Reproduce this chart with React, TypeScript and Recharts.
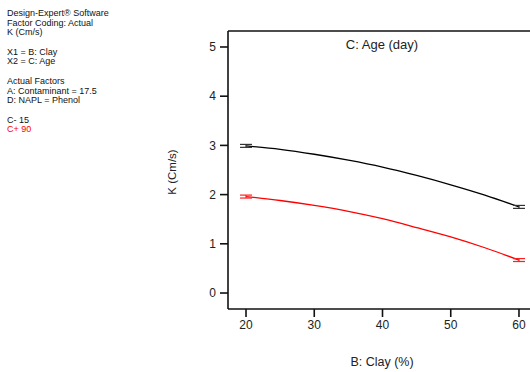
import {
  ComposedChart,
  Line,
  Scatter,
  ErrorBar,
  XAxis,
  YAxis,
  ReferenceLine
} from "recharts";

const clay = [20, 25, 30, 35, 40, 45, 50, 55, 60];
const kAge15 = [2.99, 2.92, 2.82, 2.7, 2.56, 2.39, 2.2, 1.99, 1.75];
const kAge90 = [1.96, 1.88, 1.78, 1.66, 1.51, 1.33, 1.14, 0.92, 0.67];

const ends15 = [
  { clay: 20, k: 2.99, err: 0.03 },
  { clay: 60, k: 1.75, err: 0.03 }
];
const ends90 = [
  { clay: 20, k: 1.96, err: 0.03 },
  { clay: 60, k: 0.67, err: 0.03 }
];

const xTicks = [20, 30, 40, 50, 60];
const yTicks = [0, 1, 2, 3, 4, 5];

const notes = [
  "Design-Expert® Software",
  "Factor Coding: Actual",
  "K (Cm/s)",
  "",
  "X1 = B: Clay",
  "X2 = C: Age",
  "",
  "Actual Factors",
  "A: Contaminant = 17.5",
  "D: NAPL = Phenol",
  ""
];

const rows = clay.map((c, i) => ({ clay: c, low: kAge15[i], high: kAge90[i] }));

const FONT = "'Liberation Sans', Arial, sans-serif";
const X_DOMAIN: [number, number] = [17.36, 62.64];
const Y_DOMAIN: [number, number] = [-0.325, 5.325];

const NoDot = () => <g />;

export default function App() {
  const tick = { fontSize: 12, fill: "#222", fontFamily: FONT };
  return (
    <div
      style={{
        position: "absolute",
        left: 0,
        top: 0,
        width: 530,
        height: 372,
        overflow: "hidden",
        background: "#fff",
        fontFamily: FONT
      }}
    >
      <div style={{ position: "absolute", left: 7, top: 9, fontSize: 9, lineHeight: "9.7px", color: "#111" }}>
        {notes.map((n, i) => (
          <div key={i} style={{ height: 9.7, whiteSpace: "nowrap" }}>{n}</div>
        ))}
        <div style={{ height: 9.7 }}>C- 15</div>
        <div style={{ height: 9.7, color: "#ff0000" }}>C+ 90</div>
      </div>
      <div
        style={{
          position: "absolute",
          left: 172,
          top: 172,
          fontSize: 11.5,
          color: "#222",
          whiteSpace: "nowrap",
          transform: "translate(-50%, -50%) rotate(-90deg)"
        }}
      >
        K (Cm/s)
      </div>
      <div
        style={{
          position: "absolute",
          left: 382,
          top: 44,
          fontSize: 13,
          color: "#222",
          whiteSpace: "nowrap",
          transform: "translate(-50%, -50%)"
        }}
      >
        C: Age (day)
      </div>
      <div
        style={{
          position: "absolute",
          left: 382,
          top: 362,
          fontSize: 12.5,
          color: "#222",
          whiteSpace: "nowrap",
          transform: "translate(-50%, -50%)"
        }}
      >
        B: Clay (%)
      </div>
      <div style={{ position: "absolute", left: 0, top: 0 }}>
        <ComposedChart
          width={540}
          height={372}
          data={rows}
          margin={{ top: 31, right: 3, bottom: 0, left: 0 }}
        >
          <XAxis
            dataKey="clay"
            type="number"
            domain={X_DOMAIN}
            ticks={xTicks}
            allowDataOverflow
            height={63}
            tickSize={8}
            tickMargin={3}
            tick={tick}
            stroke="#111"
            strokeWidth={1.6}
          />
          <YAxis
            type="number"
            domain={Y_DOMAIN}
            ticks={yTicks}
            allowDataOverflow
            width={228}
            tickSize={8}
            tickMargin={4}
            tick={tick}
            stroke="#111"
            strokeWidth={1.6}
          />
          <ReferenceLine y={Y_DOMAIN[1]} stroke="#111" strokeWidth={1.6} />
          <Line
            dataKey="low"
            type="monotone"
            stroke="#000"
            strokeWidth={1.3}
            dot={false}
            isAnimationActive={false}
          />
          <Line
            dataKey="high"
            type="monotone"
            stroke="#ff0000"
            strokeWidth={1.3}
            dot={false}
            isAnimationActive={false}
          />
          <Scatter data={ends15} dataKey="k" shape={NoDot} isAnimationActive={false}>
            <ErrorBar dataKey="err" direction="y" width={6} stroke="#333" strokeWidth={1.2} />
          </Scatter>
          <Scatter data={ends90} dataKey="k" shape={NoDot} isAnimationActive={false}>
            <ErrorBar dataKey="err" direction="y" width={6} stroke="#ff2020" strokeWidth={1.2} />
          </Scatter>
        </ComposedChart>
      </div>
    </div>
  );
}
